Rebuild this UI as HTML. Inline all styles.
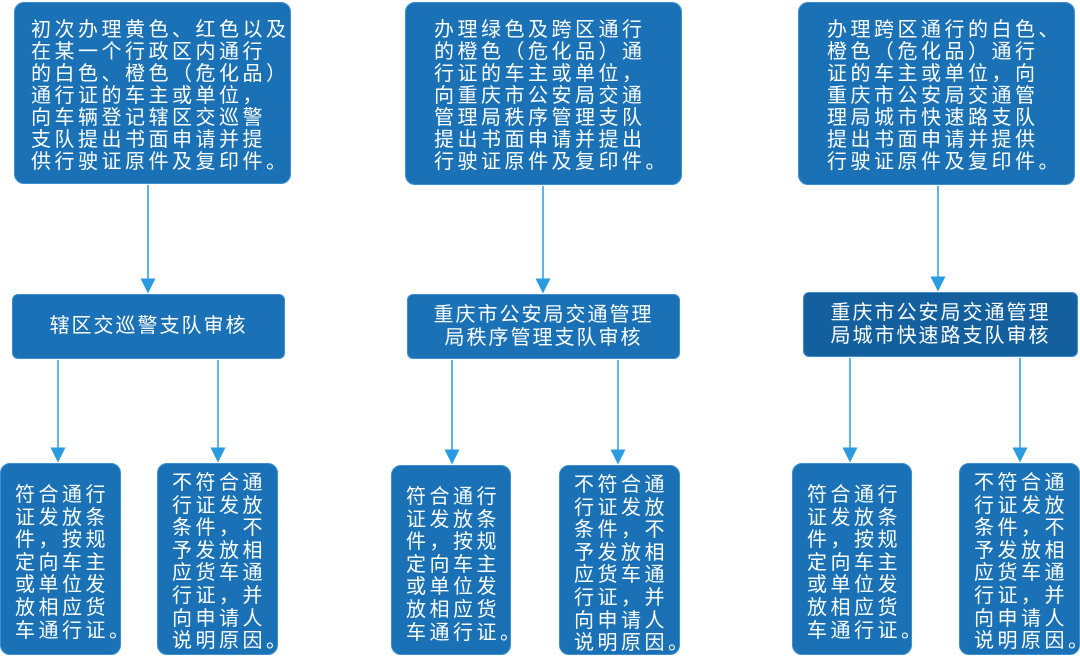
<!DOCTYPE html>
<html><head><meta charset="utf-8"><style>
body{margin:0;width:1080px;height:657px;background:#fff;position:relative;overflow:hidden;font-family:"Liberation Sans","Noto Sans CJK SC",sans-serif;}
.b{position:absolute;background:#1a71b6;border-radius:10px;color:#fff;font-size:20px;line-height:22px;letter-spacing:3.5px;white-space:pre;box-sizing:border-box;border:1px solid #3d8fd0}
.m{text-align:center;display:flex;align-items:center;justify-content:center;line-height:23px;letter-spacing:2px;border-radius:6px}
.s{padding:20px 0 0 14px;letter-spacing:3.5px;line-height:22.6px}
svg{position:absolute;left:0;top:0}
</style></head><body>
<svg width="1080" height="657">
<defs><marker id="a" markerWidth="10" markerHeight="10" refX="5" refY="5" orient="auto"><path d="M0,0 L10,5 L0,10 z" fill="#2a9be0"/></marker></defs>
<g stroke="#2a9be0" stroke-width="1.5" marker-end="url(#a)">
<line x1="148" y1="185" x2="148" y2="286"/>
<line x1="543" y1="186" x2="543" y2="286"/>
<line x1="938" y1="186" x2="938" y2="284"/>
<line x1="58" y1="360" x2="58" y2="455"/>
<line x1="218" y1="360" x2="218" y2="455"/>
<line x1="452" y1="360" x2="452" y2="457"/>
<line x1="618" y1="360" x2="618" y2="457"/>
<line x1="850" y1="358" x2="850" y2="455"/>
<line x1="1020" y1="358" x2="1020" y2="455"/>
</g></svg>
<div class="b" style="left:14px;top:2px;width:277px;height:182px;padding:16px 0 0 16px">初次办理黄色、红色以及
在某一个行政区内通行
的白色、橙色（危化品）
通行证的车主或单位，
向车辆登记辖区交巡警
支队提出书面申请并提
供行驶证原件及复印件。</div>
<div class="b" style="left:405px;top:2px;width:277px;height:183px;padding:16px 0 0 28px">办理绿色及跨区通行
的橙色（危化品）通
行证的车主或单位，
向重庆市公安局交通
管理局秩序管理支队
提出书面申请并提出
行驶证原件及复印件。</div>
<div class="b" style="left:798px;top:2px;width:277px;height:183px;padding:16px 0 0 28px">办理跨区通行的白色、
橙色（危化品）通行
证的车主或单位，向
重庆市公安局交通管
理局城市快速路支队
提出书面申请并提供
行驶证原件及复印件。</div>
<div class="b m" style="left:12px;top:294px;width:273px;height:65px">辖区交巡警支队审核</div>
<div class="b m" style="left:407px;top:294px;width:273px;height:65px">重庆市公安局交通管理
局秩序管理支队审核</div>
<div class="b m" style="left:803px;top:292px;width:275px;height:65px;background:#14609f">重庆市公安局交通管理
局城市快速路支队审核</div>
<div class="b s" style="left:0;top:463px;width:121px;height:192px">符合通行
证发放条
件，按规
定向车主
或单位发
放相应货
车通行证。</div>
<div class="b s" style="left:157px;top:463px;width:121px;height:192px;padding-top:8px">不符合通
行证发放
条件，不
予发放相
应货车通
行证，并
向申请人
说明原因。</div>
<div class="b s" style="left:391px;top:465px;width:120px;height:190px">符合通行
证发放条
件，按规
定向车主
或单位发
放相应货
车通行证。</div>
<div class="b s" style="left:559px;top:465px;width:121px;height:190px;padding-top:8px">不符合通
行证发放
条件，不
予发放相
应货车通
行证，并
向申请人
说明原因。</div>
<div class="b s" style="left:792px;top:463px;width:120px;height:192px">符合通行
证发放条
件，按规
定向车主
或单位发
放相应货
车通行证。</div>
<div class="b s" style="left:959px;top:463px;width:121px;height:192px;padding-top:8px">不符合通
行证发放
条件，不
予发放相
应货车通
行证，并
向申请人
说明原因。</div>
</body></html>
